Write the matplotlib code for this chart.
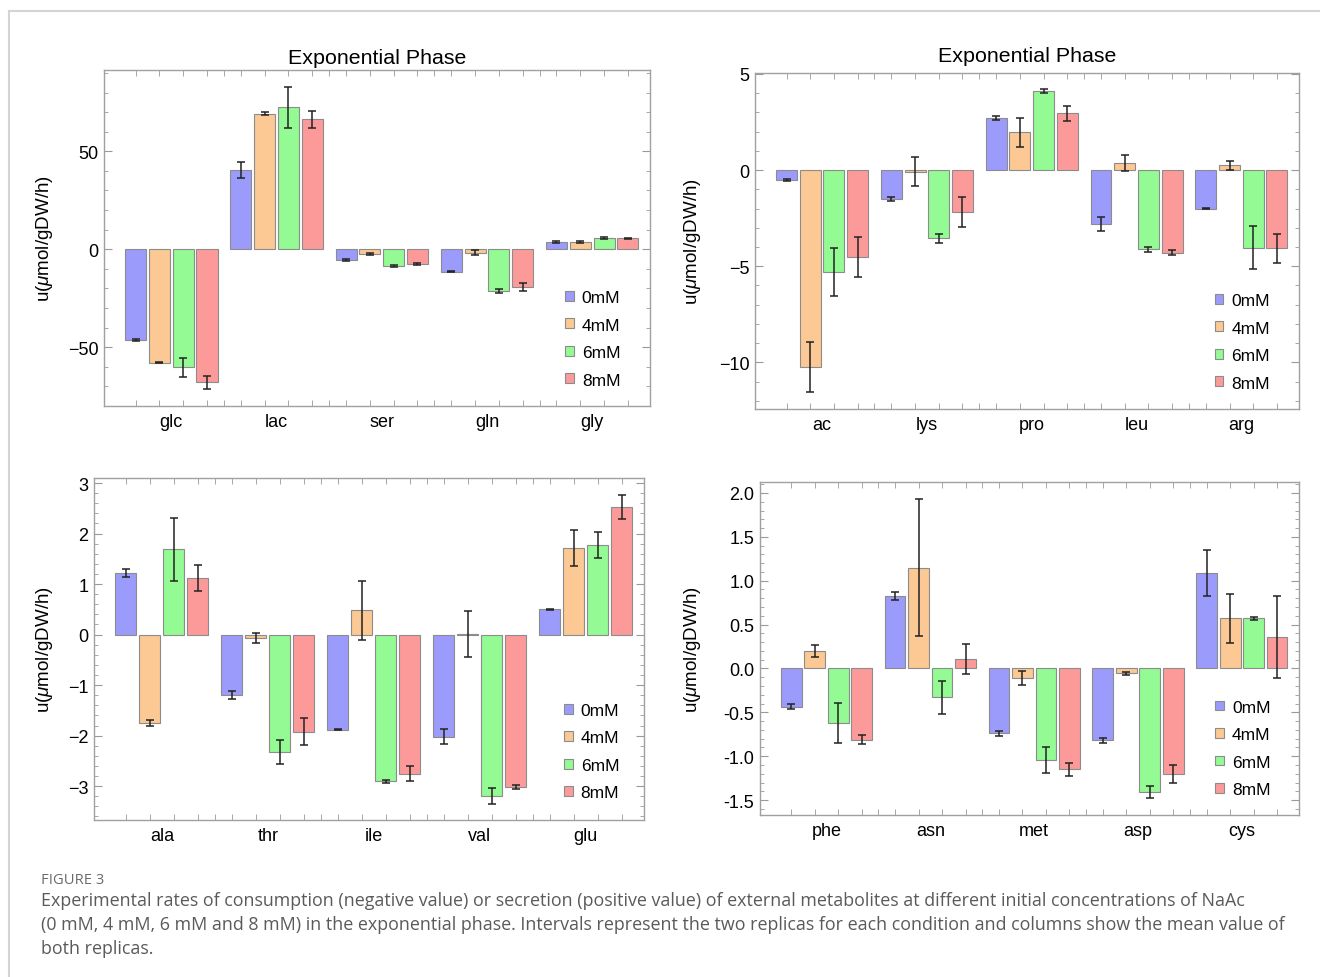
import numpy as np
import matplotlib
matplotlib.use('Agg')
import matplotlib.pyplot as plt
from matplotlib.patches import Patch
from matplotlib.ticker import MultipleLocator, FixedLocator, FormatStrFormatter

plt.rcParams['font.family'] = ['Liberation Sans', 'DejaVu Sans']
plt.rcParams['mathtext.fontset'] = 'custom'
plt.rcParams['mathtext.it'] = 'Liberation Sans:italic'
plt.rcParams['mathtext.rm'] = 'Liberation Sans'

series = ['0mM', '4mM', '6mM', '8mM']
colors = ['#9b9bfb', '#fcc894', '#94fa94', '#fc9a9a']

# panel 1 (top left)
p1_cats = ['glc', 'lac', 'ser', 'gln', 'gly']
p1_mean = [[-46.4, 40.3, -5.4, -11.5, 3.7],
           [-57.8, 69.2, -2.4, -1.7, 3.7],
           [-60.3, 72.4, -8.5, -21.4, 5.8],
           [-68.0, 66.4, -7.5, -19.2, 5.6]]
p1_err = [[0.5, 4.0, 0.5, 0.3, 0.3],
          [0.3, 0.8, 0.3, 1.4, 0.4],
          [5.0, 10.5, 0.4, 1.0, 0.6],
          [3.4, 4.3, 0.5, 1.9, 0.4]]

# panel 2 (top right)
p2_cats = ['ac', 'lys', 'pro', 'leu', 'arg']
p2_mean = [[-0.52, -1.51, 2.71, -2.81, -2.0],
           [-10.26, -0.09, 1.96, 0.36, 0.24],
           [-5.3, -3.54, 4.1, -4.13, -4.05],
           [-4.51, -2.19, 2.95, -4.29, -4.08]]
p2_err = [[0.05, 0.1, 0.1, 0.35, 0.04],
          [1.3, 0.76, 0.76, 0.4, 0.24],
          [1.25, 0.23, 0.1, 0.15, 1.12],
          [1.03, 0.77, 0.38, 0.15, 0.73]]

# panel 3 (bottom left)
p3_cats = ['ala', 'thr', 'ile', 'val', 'glu']
p3_mean = [[1.22, -1.2, -1.88, -2.02, 0.5],
           [-1.745, -0.07, 0.48, 0.013, 1.72],
           [1.69, -2.32, -2.9, -3.19, 1.78],
           [1.12, -1.92, -2.75, -3.01, 2.52]]
p3_err = [[0.075, 0.075, 0.01, 0.15, 0.01],
          [0.055, 0.1, 0.58, 0.46, 0.36],
          [0.62, 0.24, 0.03, 0.16, 0.26],
          [0.25, 0.26, 0.14, 0.04, 0.24]]

# panel 4 (bottom right)
p4_cats = ['phe', 'asn', 'met', 'asp', 'cys']
p4_mean = [[-0.436, 0.83, -0.74, -0.82, 1.09],
           [0.2, 1.15, -0.11, -0.057, 0.57],
           [-0.62, -0.33, -1.04, -1.41, 0.57],
           [-0.81, 0.11, -1.15, -1.2, 0.36]]
p4_err = [[0.03, 0.045, 0.03, 0.03, 0.26],
          [0.065, 0.78, 0.08, 0.02, 0.28],
          [0.23, 0.19, 0.15, 0.07, 0.017],
          [0.05, 0.17, 0.075, 0.1, 0.47]]

W, H = 1320, 978
fig = plt.figure(figsize=(W / 100, H / 100), dpi=100)

# card border
fig.add_artist(plt.Line2D([9 / W, 1], [1 - 12 / H, 1 - 12 / H], color='#d4d4d4', lw=1.5))
fig.add_artist(plt.Line2D([9 / W, 9 / W], [0, 1 - 12 / H], color='#d4d4d4', lw=1.5))


def px_axes(x0, y0, x1, y1):
    return fig.add_axes([x0 / W, 1 - y1 / H, (x1 - x0) / W, (y1 - y0) / H])


spacing = 0.226
bw = 0.2


def draw(ax, cats, mean, err, ylim, major, minor, title, tpad, ylab_x, leg_x):
    x = np.arange(len(cats))
    for k in range(4):
        pos = x + (k - 1.5) * spacing
        ax.bar(pos, mean[k], width=bw, color=colors[k], edgecolor='#8c8c8c', linewidth=0.8, zorder=2)
        ax.errorbar(pos, mean[k], yerr=err[k], fmt='none', ecolor='#222222', elinewidth=1.1,
                    capsize=3, capthick=1.1, zorder=3)
    ax.set_xlim(-0.64, len(cats) - 0.45)
    ax.set_ylim(*ylim)
    ax.yaxis.set_major_locator(MultipleLocator(major))
    ax.yaxis.set_minor_locator(MultipleLocator(minor))
    ax.xaxis.set_major_locator(FixedLocator(x))
    ax.set_xticklabels(cats)
    bars_c = np.concatenate([x + (k - 1.5) * spacing for k in range(4)])
    bounds = np.arange(len(cats) - 1) + 0.5
    ax.xaxis.set_minor_locator(FixedLocator(np.concatenate([bars_c, bounds])))
    ax.tick_params(axis='x', which='major', length=0, labelsize=13, pad=5)
    ax.tick_params(axis='x', which='minor', direction='in', length=4, color='#999999', top=True)
    ax.tick_params(axis='y', which='major', direction='in', length=6, color='#999999',
                   labelsize=13, right=True, pad=4)
    ax.tick_params(axis='y', which='minor', direction='in', length=3, color='#999999', right=True)
    for s in ax.spines.values():
        s.set_color('#a0a0a0')
        s.set_linewidth(1.0)
    if title:
        ax.set_title(title, fontsize=15.4, pad=tpad)
    ax.set_ylabel(r'u($\mathit{\mu}$mol/gDW/h)', fontsize=13.5)
    ax.yaxis.set_label_coords(ylab_x, 0.5)
    handles = [Patch(facecolor=colors[k], edgecolor='#8c8c8c', linewidth=0.8, label=series[k])
               for k in range(4)]
    ax.legend(handles=handles, loc='center left', bbox_to_anchor=(leg_x, 0.2), frameon=False,
              fontsize=12.5, handlelength=0.5, handleheight=0.5, handletextpad=0.45,
              labelspacing=0.72, borderpad=0, borderaxespad=0)


ax1 = px_axes(104, 71, 650, 407)
draw(ax1, p1_cats, p1_mean, p1_err, (-80, 91.5), 50, 10, 'Exponential Phase', 5, -0.09, 0.845)
ax2 = px_axes(755, 74, 1299, 410)
draw(ax2, p2_cats, p2_mean, p2_err, (-12.43, 5.05), 5, 1, 'Exponential Phase', 9, -0.096, 0.845)
ax3 = px_axes(94, 479, 644, 821)
draw(ax3, p3_cats, p3_mean, p3_err, (-3.67, 3.1), 1, 0.2, None, 0, -0.071, 0.855)
ax4 = px_axes(760, 483, 1299, 816)
draw(ax4, p4_cats, p4_mean, p4_err, (-1.67, 2.125), 0.5, 0.1, None, 0, -0.106, 0.845)
ax4.yaxis.set_major_formatter(FormatStrFormatter('%.1f'))

# caption
fig.text(41 / W, 1 - 881 / H, 'FIGURE 3', fontsize=10.6, color='#6a6a6a', va='center',
         family=['Open Sans', 'DejaVu Sans'])
caption = ['Experimental rates of consumption (negative value) or secretion (positive value) of external metabolites at different initial concentrations of NaAc',
           '(0 mM, 4 mM, 6 mM and 8 mM) in the exponential phase. Intervals represent the two replicas for each condition and columns show the mean value of',
           'both replicas.']
for i, line in enumerate(caption):
    fig.text(41 / W, 1 - (901 + 24 * i) / H, line, fontsize=12.9, color='#5a5a5a', va='center',
             family=['Open Sans', 'DejaVu Sans'])

fig.savefig('out.png', dpi=100)
